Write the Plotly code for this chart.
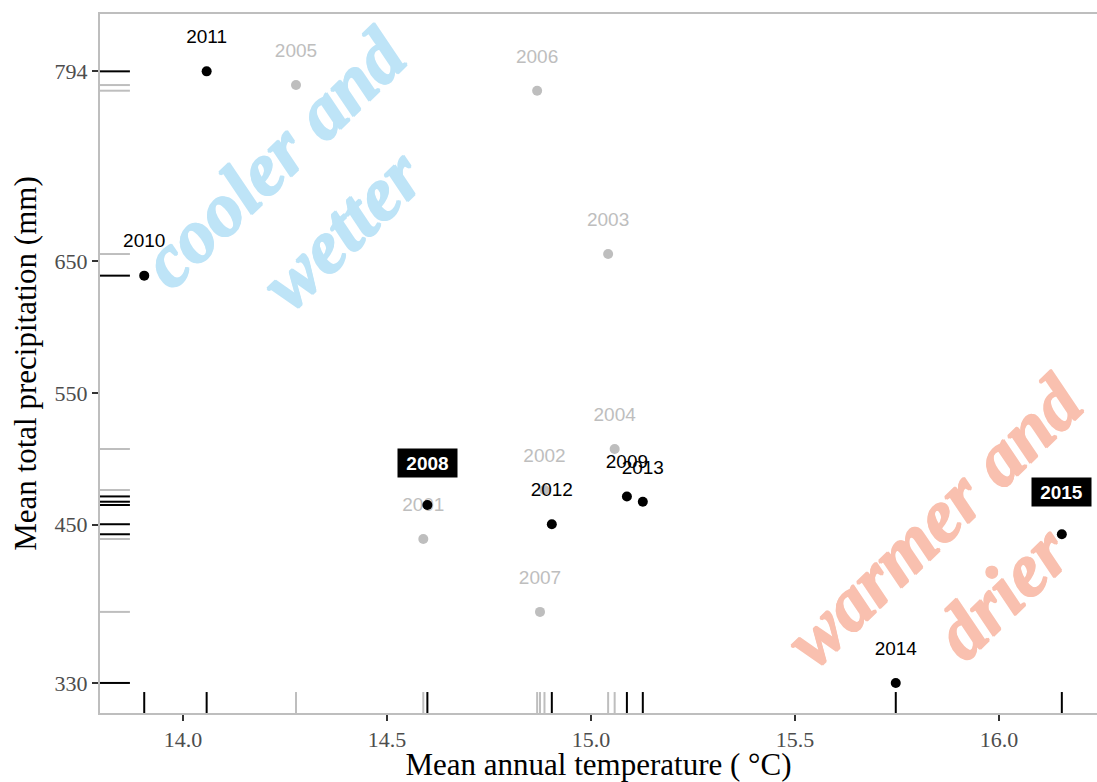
import plotly.graph_objects as go

# ---- data ----
years = [2001, 2002, 2003, 2004, 2005, 2006, 2007,
         2008, 2009, 2010, 2011, 2012, 2013, 2014, 2015]
temp = [14.589, 14.886, 15.042, 15.058, 14.277, 14.868, 14.875,
        14.599, 15.088, 13.905, 14.058, 14.904, 15.127, 15.747, 16.154]
precip = [439.2, 476.4, 655.4, 507.5, 783.6, 779.3, 383.9,
          465.0, 471.5, 639.0, 794.0, 450.4, 467.5, 330.0, 442.8]
highlight_from = 2008          # years >= this are drawn in black
boxed_years = [2008, 2015]     # years with a filled label box
x_ticks = [14.0, 14.5, 15.0, 15.5, 16.0]
x_ticklabels = ["14.0", "14.5", "15.0", "15.5", "16.0"]
y_ticks = [330, 450, 550, 650, 794]
y_ticklabels = ["330", "450", "550", "650", "794"]
label_nudge = 25               # label offset in mm (like nudge_y)

GREY = "#BEBEBE"
SERIF = "Liberation Serif"
SANS = "Liberation Sans"
BLUE = "#BEE4F7"
SALMON = "#F9C0AF"

grey_idx = [i for i, y in enumerate(years) if y < highlight_from]
black_idx = [i for i, y in enumerate(years) if y >= highlight_from]

fig = go.Figure()

def add_group(idx, color):
    xs = [temp[i] for i in idx]
    ys = [precip[i] for i in idx]
    fig.add_trace(go.Scatter(x=xs, y=ys, mode="markers",
                             marker=dict(color=color, size=10, line=dict(width=0)),
                             showlegend=False, hoverinfo="skip"))
    fig.add_trace(go.Scatter(x=xs, y=[v + label_nudge for v in ys], mode="text",
                             text=[str(years[i]) for i in idx],
                             textposition="middle center",
                             textfont=dict(family=SANS, size=19, color=color),
                             showlegend=False, hoverinfo="skip"))

add_group(grey_idx, GREY)
add_group(black_idx, "black")

# ---- rugs ----
shapes = []
for idx, color in ((grey_idx, GREY), (black_idx, "black")):
    for i in idx:
        shapes.append(dict(type="line", xref="x", yref="paper",
                           x0=temp[i], x1=temp[i], y0=0, y1=0.03,
                           line=dict(color=color, width=2), layer="above"))
        shapes.append(dict(type="line", xref="paper", yref="y",
                           x0=0, x1=0.03, y0=precip[i], y1=precip[i],
                           line=dict(color=color, width=2), layer="above"))

def bi(lines):
    return "<br>".join("<b><i>%s</i></b>" % s for s in lines)

def thick(c):
    return ", ".join("%s %s 0 %s" % (dx, dy, c)
                     for dx, dy in (("1px", "0"), ("-1px", "0"), ("0", "1px"), ("0", "-1px")))

annotations = [
    dict(text=bi(["cooler and", "wetter"]), x=14.304, y=701.7, xref="x", yref="y",
         showarrow=False, textangle=-44, xanchor="center", yanchor="middle",
         font=dict(family=SERIF, size=76, color=BLUE, shadow=thick(BLUE))),
    dict(text=bi(["warmer and", "drier"]), x=15.922, y=426.3, xref="x", yref="y",
         showarrow=False, textangle=-44, xanchor="center", yanchor="middle",
         font=dict(family=SERIF, size=76, color=SALMON, shadow=thick(SALMON))),
]
for yr in boxed_years:
    i = years.index(yr)
    annotations.append(dict(text="<b>%d</b>" % yr, x=temp[i], y=precip[i],
                            xref="x", yref="y",
                            showarrow=False, yshift=42, bgcolor="black",
                            borderpad=3, width=53, height=22,
                            font=dict(family=SANS, size=19, color="white")))

fig.update_layout(
    width=1097, height=782,
    margin=dict(l=100, r=0, t=14, b=69, pad=0),
    paper_bgcolor="white", plot_bgcolor="white",
    shapes=shapes, annotations=annotations,
    xaxis=dict(range=[13.7966, 16.2402], tickvals=x_ticks, ticktext=x_ticklabels,
               showgrid=False, zeroline=False,
               showline=True, linecolor=GREY, linewidth=2, mirror=True,
               ticks="outside", ticklen=6, tickwidth=2, tickcolor="#333333",
               tickfont=dict(family=SERIF, size=22, color="#4D4D4D"),
               title=dict(text="Mean annual temperature ( °C)", standoff=6,
                          font=dict(family=SERIF, size=31, color="black"))),
    yaxis=dict(range=[307.2, 837.5], tickvals=y_ticks, ticktext=y_ticklabels,
               showgrid=False, zeroline=False,
               showline=True, linecolor=GREY, linewidth=2, mirror=False,
               ticks="outside", ticklen=6, tickwidth=2, tickcolor="#333333",
               tickfont=dict(family=SERIF, size=22, color="#4D4D4D"),
               title=dict(text="Mean total precipitation (mm)", standoff=9,
                          font=dict(family=SERIF, size=31, color="black"))),
)

fig.write_html("out.html")
